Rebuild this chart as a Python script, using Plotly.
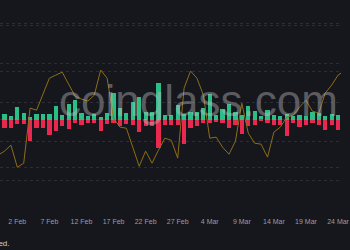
import pandas as pd
import plotly.graph_objects as go

# ---- data ----
bar_dates = pd.date_range("2025-01-31", "2025-03-24", freq="D")
long_liq = [12.5, 6.9, 26.7, 13.1, 6.7, 11.0, 12.1, 12.1, 29.6, 10.4, 32.3, 41.7, 15.0, 8.3,
            12.5, 4.8, 14.6, 56.7, 25.4, 15.0, 37.9, 48.3, 17.1, 17.1, 76.0, 10.4, 10.4, 30.6,
            11.5, 17.1, 17.1, 24.0, 52.7, 10.4, 21.9, 32.3, 15.6, 10.4, 29.6, 18.1, 7.3, 20.2,
            10.4, 8.3, 11.5, 8.3, 10.4, 7.7, 17.1, 14.6, 7.7, 12.5, 10.4]
short_liq = [-17.1, -16.7, -8.3, -8.3, -44.4, -16.7, -16.7, -32.3, -24.0, -14.0, -19.4, -6.9,
             -10.4, -6.9, -6.9, -22.9, -9.0, -6.9, -12.5, -9.0, -10.4, -25.0, -12.5, -12.5,
             -59.0, -10.4, -10.4, -10.4, -50.0, -17.3, -14.0, -6.9, -6.9, -5.6, -6.9, -17.3,
             -10.4, -29.2, -13.1, -10.4, -3.5, -6.9, -10.4, -10.4, -33.3, -6.9, -14.6, -10.4,
             -6.9, -10.4, -20.8, -10.4, -20.8]
price_dates = pd.date_range("2025-01-30", "2025-03-25", freq="D")
price = [2.129, 2.150, 2.181, 2.067, 2.088, 2.372, 2.361, 2.439, 2.526, 2.542, 2.557, 2.495,
         2.434, 2.418, 2.408, 2.439, 2.568, 2.526, 2.320, 2.274, 2.268, 2.170, 2.072, 2.150,
         2.088, 2.155, 2.217, 2.206, 2.114, 2.475, 2.563, 2.526, 2.439, 2.217, 2.222, 2.170,
         2.134, 2.201, 2.397, 2.243, 2.191, 2.186, 2.119, 2.248, 2.274, 2.325, 2.335, 2.377,
         2.413, 2.356, 2.346, 2.449, 2.490, 2.542, 2.563]

BG = "#16171c"
GRID = "#2c2e36"
GREEN = "#2bbf87"
RED = "#e9284f"
LINE = "#8c6e17"
DAY_MS = 86400000

fig = go.Figure()
fig.add_trace(go.Bar(x=bar_dates, y=long_liq, marker=dict(color=GREEN, line=dict(width=0)),
                     width=0.66 * DAY_MS, name="Long"))
fig.add_trace(go.Bar(x=bar_dates, y=short_liq, marker=dict(color=RED, line=dict(width=0)),
                     width=0.66 * DAY_MS, name="Short"))
fig.add_trace(go.Scatter(x=price_dates, y=price, mode="lines", yaxis="y2",
                         line=dict(color=LINE, width=1), name="Price"))

fig.update_layout(
    width=350, height=250,
    margin=dict(l=0, r=0, t=0, b=34),
    paper_bgcolor=BG, plot_bgcolor=BG,
    barmode="relative", bargap=0,
    showlegend=False,
    xaxis=dict(type="date", range=["2025-01-30 07:12", "2025-03-24 11:00"],
               tickformat="%-d %b", tick0="2025-02-02", dtick=5 * DAY_MS,
               showgrid=False, zeroline=False, showline=False, ticks="",
               ticklabeloverflow="allow",
               tickfont=dict(size=7, color="#9a9ca4", family="Liberation Sans")),
    yaxis=dict(range=[-200.5, 249.4], dtick=100, tick0=0, showticklabels=False,
               showgrid=True, gridcolor=GRID, griddash="3px,3px", zeroline=False),
    yaxis2=dict(range=[1.8157, 2.929], dtick=0.2, tick0=2.0, overlaying="y", side="right",
                showticklabels=False, showgrid=True, gridcolor=GRID, griddash="3px,3px",
                zeroline=False),
    annotations=[
        dict(text="coinglass.com", xref="paper", yref="paper", x=0.581, y=0.535,
             xanchor="center", yanchor="middle", showarrow=False,
             font=dict(size=44, color="rgba(190,190,195,0.42)", family="Liberation Sans")),
        dict(text="© Coinglass. All rights reserved.", xref="paper", yref="paper",
             x=12.5 / 350, y=-0.129, xanchor="right", yanchor="middle", showarrow=False,
             font=dict(size=8, color="#d0d0d4", family="Liberation Sans")),
    ],
)

fig.write_html("out.html")
